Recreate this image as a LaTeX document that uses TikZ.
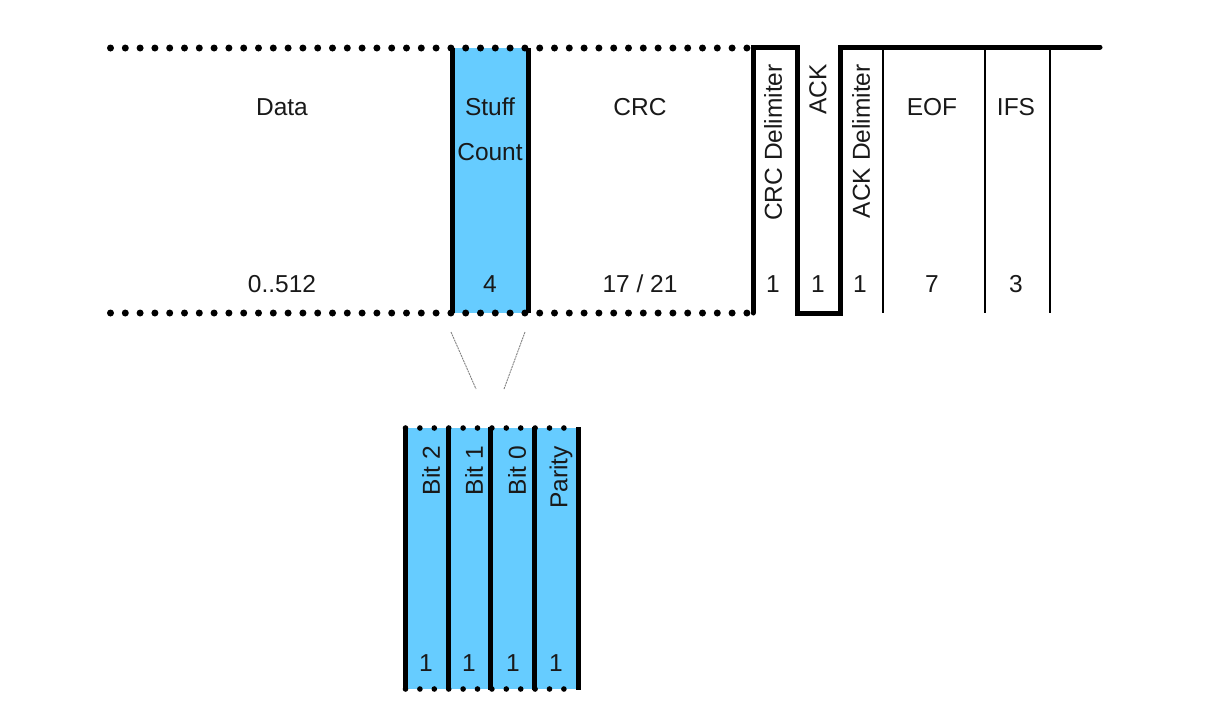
\documentclass[tikz,border=0pt]{standalone}
\usepackage{fontspec}
\setmainfont{Liberation Sans}
\definecolor{fieldblue}{RGB}{102,204,255}
\definecolor{txt}{RGB}{25,25,25}
\begin{document}
\begin{tikzpicture}[x=1pt,y=-1pt,
  lbl/.style={font=\fontsize{24.5}{28}\selectfont, text=txt, inner sep=0pt},
  rlbl/.style={lbl, rotate=90, anchor=east},
  dots/.style={line width=7pt, line cap=round, dash pattern=on 0pt off 14.8pt},
  sdots/.style={line width=5.6pt, line cap=round, dash pattern=on 0pt off 14.4pt},
  thick line/.style={line width=5pt},
  thin line/.style={line width=1.3pt},
  link/.style={gray, line width=0.9pt, dash pattern=on 2pt off 0.8pt}]
\useasboundingbox (0,0) rectangle (1219,716);
% blue fills
\fill[fieldblue] (452,48) rectangle (528,313);
\fill[fieldblue] (403,428) rectangle (578,689);
% dotted frame lines
\draw[dots] (110.5,48) -- (748,48);
\draw[dots] (110.5,313) -- (748,313);
\draw[sdots] (405.5,428) -- (578,428);
\draw[sdots] (405.5,689) -- (578,689);
% stuff count borders
\draw[thick line] (452,48) -- (452,313);
\draw[thick line] (528,48) -- (528,313);
% waveform
\coordinate (w0) at (753,313);
\coordinate (w1) at (753,47);
\coordinate (w2) at (797,47);
\coordinate (w3) at (797,313);
\coordinate (w4) at (840,313);
\coordinate (w5) at (840,47);
\coordinate (w6) at (1100,47);
\draw[thick line, line join=miter, line cap=round] (w0) -- (w1) -- (w2) -- (w3) -- (w4) -- (w5) -- (w6);
\draw[thin line] (883,47) -- (883,313);
\draw[thin line] (985,47) -- (985,313);
\draw[thin line] (1050,47) -- (1050,313);
% bottom group borders
\foreach \x in {405,448,490,534,578} \draw[thick line] (\x,427) -- (\x,690);
% top labels
\node[lbl] (data) at (282,107) {Data};
\node[lbl] (stuff) at (490,107) {Stuff};
\node[lbl] (count) at (490,152) {Count};
\node[lbl] (crc) at (640,107) {CRC};
\node[rlbl] (crcdel) at (773,64) {CRC Delimiter};
\node[rlbl] (ack) at (818,64) {ACK};
\node[rlbl] (ackdel) at (861,64) {ACK Delimiter};
\node[lbl] (eof) at (932,107) {EOF};
\node[lbl] (ifs) at (1016,107) {IFS};
% top numbers
\node[lbl] (ndata) at (282,284) {0..512};
\node[lbl] (nstuff) at (490,284) {4};
\node[lbl] (ncrc) at (640,284) {17 / 21};
\node[lbl] (ncrcdel) at (773,284) {1};
\node[lbl] (nack) at (818,284) {1};
\node[lbl] (nackdel) at (860,284) {1};
\node[lbl] (neof) at (932,284) {7};
\node[lbl] (nifs) at (1016,284) {3};
% bottom labels
\node[rlbl] (b2) at (431,446) {Bit 2};
\node[rlbl] (b1) at (474,446) {Bit 1};
\node[rlbl] (b0) at (517,446) {Bit 0};
\node[rlbl] (par) at (561,446) {Parity};
\node[lbl] (nb2) at (426,663) {1};
\node[lbl] (nb1) at (469,663) {1};
\node[lbl] (nb0) at (513,663) {1};
\node[lbl] (npar) at (556,663) {1};
% expansion links
\coordinate (l1a) at (451,332);
\coordinate (l1b) at (476,389);
\coordinate (l2a) at (525,332);
\coordinate (l2b) at (504,389);
\draw[link] (l1a) -- (l1b);
\draw[link] (l2a) -- (l2b);
\end{tikzpicture}
\end{document}
